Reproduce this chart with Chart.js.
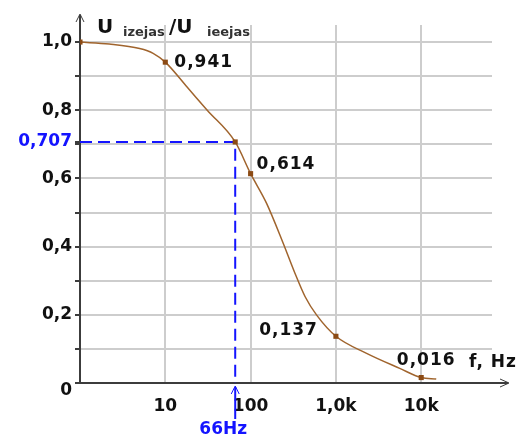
<!DOCTYPE html>
<html lang="lv">
<head>
<meta charset="UTF-8">
<title>U izejas / U ieejas</title>
<script src="https://cdn.jsdelivr.net/npm/chart.js@4"></script>
<style>
  body { margin: 0; background: #fff; }
  #wrap { width: 520px; height: 439px; }
</style>
</head>
<body>
<div id="wrap"><canvas id="chart" width="520" height="439"></canvas></div>
<script>
// frequency (Hz) and output/input ratio
const freq  = [1, 2.2, 5, 7.2, 10, 18, 31, 66, 100, 154, 241, 331, 436, 595, 1000, 2290, 5600, 10000, 15000];
const ratio = [1.0, 0.994, 0.981, 0.967, 0.941, 0.868, 0.80, 0.707, 0.614, 0.527, 0.41, 0.322, 0.253, 0.199, 0.137, 0.087, 0.043, 0.016, 0.012];

// marked points with their value labels
const markFreq   = [1, 10, 66, 100, 1000, 10000];
const markRatio  = [1.0, 0.941, 0.707, 0.614, 0.137, 0.016];
const markLabels = ['', '0,941', '', '0,614', '0,137', '0,016'];

// cut-off point
const cutFreq = 66;
const cutRatio = 0.707;
const cutLabel = '66Hz';

// axis ticks
const xTicks = [1, 10, 100, 1000, 10000];
const xTickLabels = ['', '10', '100', '1,0k', '10k'];
const yTicks = [0, 0.1, 0.2, 0.3, 0.4, 0.5, 0.6, 0.7, 0.707, 0.8, 0.9, 1.0];

const FONT = '"DejaVu Sans", Verdana, sans-serif';
const BLUE = '#1414ff';
const BROWN = '#a0642d';
const AXIS = '#3c3c3c';

function yLabel(v) {
  if (v === cutRatio) return '0,707';
  if (v === 0) return '';          // drawn by the plugin, a bit lower
  const tenth = Math.round(v * 10);
  if (tenth % 2 !== 0) return '';
  return v.toFixed(1).replace('.', ',');
}

// arrows, axis captions and point labels
const extras = {
  id: 'extras',
  afterDraw(chart) {
    const ctx = chart.ctx;
    const xs = chart.scales.x, ys = chart.scales.y;
    const left = xs.left, bottom = ys.bottom;
    ctx.save();

    // axis arrows
    ctx.strokeStyle = AXIS;
    ctx.lineWidth = 2;
    ctx.beginPath();
    ctx.moveTo(left, ys.top); ctx.lineTo(left, ys.top - 10);
    ctx.moveTo(xs.right, bottom); ctx.lineTo(xs.right + 16, bottom);
    ctx.stroke();
    ctx.lineWidth = 1;
    ctx.beginPath();
    ctx.moveTo(left - 4, ys.top - 3); ctx.lineTo(left, ys.top - 11); ctx.lineTo(left + 4, ys.top - 3);
    ctx.moveTo(xs.right + 8, bottom - 4); ctx.lineTo(xs.right + 17, bottom); ctx.lineTo(xs.right + 8, bottom + 4);
    ctx.stroke();

    // y caption
    ctx.textBaseline = 'alphabetic';
    ctx.textAlign = 'left';
    ctx.fillStyle = '#111';
    ctx.font = 'bold 20px ' + FONT;
    ctx.fillText('U', 97, 33);
    ctx.fillText('/U', 169, 33);
    ctx.fillStyle = '#333';
    ctx.font = 'bold 13px ' + FONT;
    ctx.fillText('izejas', 123, 36);
    ctx.fillText('ieejas', 207, 36);

    // zero label of the y axis
    ctx.fillStyle = '#111';
    ctx.font = 'bold 17px ' + FONT;
    ctx.textBaseline = 'middle';
    ctx.textAlign = 'right';
    ctx.fillText('0', 72, bottom + 8);

    // x caption
    ctx.letterSpacing = '1px';
    ctx.textAlign = 'left';
    ctx.fillText('f, Hz', 469, 363);

    // point labels
    const offsets = [null, [9, 0, 'left'], null, [6, -9, 'left'], [-18, -6, 'right'], [5, -17, 'center']];
    markLabels.forEach((txt, i) => {
      if (!txt) return;
      const px = xs.getPixelForValue(markFreq[i]);
      const py = ys.getPixelForValue(markRatio[i]);
      const o = offsets[i];
      ctx.textAlign = o[2];
      ctx.fillText(txt, px + o[0], py + o[1]);
    });
    ctx.letterSpacing = '0px';

    // cut-off arrow below axis
    const cx = xs.getPixelForValue(cutFreq);
    ctx.strokeStyle = BLUE;
    ctx.lineWidth = 2;
    ctx.beginPath();
    ctx.moveTo(cx, bottom + 4); ctx.lineTo(cx, bottom + 36);
    ctx.stroke();
    ctx.lineWidth = 1;
    ctx.beginPath();
    ctx.moveTo(cx - 4, bottom + 11); ctx.lineTo(cx, bottom + 3); ctx.lineTo(cx + 4, bottom + 11);
    ctx.stroke();
    ctx.fillStyle = BLUE;
    ctx.textAlign = 'center';
    ctx.fillText(cutLabel, cx - 12, bottom + 47);

    ctx.restore();
  }
};

const ctx = document.getElementById('chart').getContext('2d');
new Chart(ctx, {
  type: 'scatter',
  data: {
    datasets: [
      {
        data: markFreq.map((f, i) => ({ x: f, y: markRatio[i] })),
        showLine: false,
        pointStyle: 'rect',
        pointRadius: 3.6,
        pointBackgroundColor: '#8b4a14',
        pointBorderWidth: 0,
        order: 0
      },
      {
        data: freq.map((f, i) => ({ x: f, y: ratio[i] })),
        showLine: true,
        borderColor: BROWN,
        borderWidth: 1.5,
        pointRadius: 0,
        cubicInterpolationMode: 'monotone',
        order: 1
      },
      {
        data: [{ x: 1, y: cutRatio }, { x: cutFreq, y: cutRatio }, { x: cutFreq, y: 0 }],
        showLine: true,
        borderColor: BLUE,
        borderWidth: 2,
        borderDash: [12, 6],
        pointRadius: 0,
        order: 2
      }
    ]
  },
  options: {
    responsive: false,
    animation: false,
    layout: { padding: { top: 25, right: 28, left: 0, bottom: 0 } },
    plugins: {
      legend: { display: false },
      tooltip: { enabled: false }
    },
    scales: {
      x: {
        type: 'logarithmic',
        min: 1,
        max: 67600,
        afterBuildTicks: s => { s.ticks = xTicks.map(v => ({ value: v })); },
        afterFit: s => { s.height = 56; },
        grid: {
          color: c => c.index === 0 ? 'rgba(0,0,0,0)' : '#cdcdcd',
          lineWidth: 2,
          drawTicks: false
        },
        border: { color: AXIS, width: 2 },
        ticks: {
          padding: 13,
          color: '#111',
          font: { family: FONT, size: 17, weight: 'bold' },
          maxRotation: 0,
          autoSkip: false,
          callback: (v, i) => xTickLabels[i]
        }
      },
      y: {
        min: 0,
        max: 1.05,
        afterBuildTicks: s => { s.ticks = yTicks.map(v => ({ value: v })); },
        afterFit: s => { s.width = 80; },
        grid: {
          color: c => (c.tick && (c.tick.value === cutRatio || c.tick.value === 0)) ? 'rgba(0,0,0,0)' : '#cdcdcd',
          lineWidth: 2,
          tickLength: 5,
          tickColor: AXIS,
          tickWidth: 2
        },
        border: { color: AXIS, width: 2 },
        ticks: {
          padding: 3,
          autoSkip: false,
          color: c => (c.tick && c.tick.value === cutRatio) ? BLUE : '#111',
          font: { family: FONT, size: 17, weight: 'bold' },
          callback: v => yLabel(v)
        }
      }
    }
  },
  plugins: [extras]
});
</script>
</body>
</html>
